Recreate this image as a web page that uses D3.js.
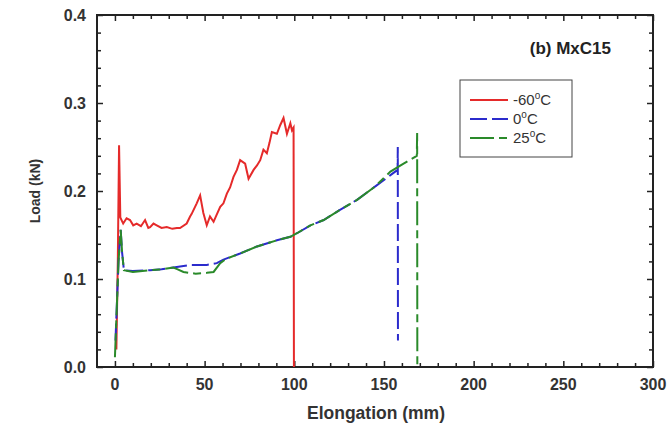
<!DOCTYPE html>
<html>
<head>
<meta charset="utf-8">
<script src="https://cdn.jsdelivr.net/npm/d3@7"></script>
<style>
	body { margin: 0; background: #fff; }
	svg { font-family: "Liberation Sans", Arial, sans-serif; }
	.tickLabel { font-weight: bold; font-size: 16px; fill: #333; }
	.axisTitle { font-weight: bold; fill: #333; }
</style>
</head>
<body>
<svg id="visSVG" width="670" height="428"></svg>
<script>

// data (elongation in mm, load in kN)
var redX = [0.8, 1.6, 2.3, 3.0, 4.6, 6.5, 8.4, 10.2, 12.1, 14.5, 16.8, 18.6, 19.6, 21.5, 23.3, 26, 28.9, 32, 34.5, 36.3, 40, 41.9, 42.8, 45.6, 47.5, 49.3, 51.2, 53, 55, 56.5, 58.7, 60.5, 62.4, 64.2, 66.1, 68, 69.8, 72.6, 74.5, 77.3, 79.2, 81, 82.8, 84.7, 86.2, 87.5, 90.3, 92.2, 94.0, 95.9, 97.8, 98.7, 99.6, 99.8];
var redY = [0.02, 0.12, 0.252, 0.17, 0.163, 0.169, 0.167, 0.161, 0.163, 0.16, 0.167, 0.158, 0.159, 0.163, 0.161, 0.158, 0.159, 0.157, 0.158, 0.158, 0.163, 0.171, 0.174, 0.186, 0.195, 0.175, 0.161, 0.171, 0.165, 0.172, 0.182, 0.186, 0.197, 0.204, 0.216, 0.224, 0.235, 0.231, 0.214, 0.224, 0.229, 0.235, 0.247, 0.243, 0.255, 0.267, 0.265, 0.275, 0.283, 0.265, 0.277, 0.269, 0.272, 0.0];

var blueX = [0.3, 2.0, 3.2, 4.0, 5.0, 10, 19.6, 26, 32.6, 41.9, 51.2, 56.8, 60.5, 69.8, 79.2, 90.3, 97.8, 101.5, 109, 116.4, 125, 135, 145, 153.6, 157.6, 157.7, 157.8];
var blueY = [0.03, 0.12, 0.156, 0.13, 0.110, 0.109, 0.110, 0.111, 0.113, 0.116, 0.116, 0.118, 0.122, 0.129, 0.137, 0.144, 0.148, 0.152, 0.161, 0.167, 0.178, 0.190, 0.205, 0.218, 0.224, 0.250, 0.03];

var greenX = [0.0, 2.0, 3.2, 4.0, 5.0, 10, 19.6, 26, 32.6, 35, 38.2, 45, 51.2, 55, 58.7, 62, 69.8, 79.2, 90.3, 97.8, 101.5, 109, 116.4, 125, 135, 145, 153.6, 160, 168.3, 168.5, 168.6];
var greenY = [0.011, 0.12, 0.156, 0.13, 0.110, 0.108, 0.110, 0.111, 0.113, 0.111, 0.108, 0.106, 0.107, 0.108, 0.118, 0.123, 0.129, 0.137, 0.144, 0.148, 0.152, 0.161, 0.167, 0.178, 0.190, 0.205, 0.222, 0.230, 0.240, 0.266, 0.0];

var seriesNames = ["-60", "0", "25"];
var seriesColors = ["#e52a2a", "#2b2bcc", "#2a8a2a"];
var seriesDash = [null, "17,5", "24,5,8,5"];

var xTicks = [0, 50, 100, 150, 200, 250, 300];
var yTicks = [0.0, 0.1, 0.2, 0.3, 0.4];

var PLOT_L = 97, PLOT_R = 653, PLOT_T = 15, PLOT_B = 367;

var vis = d3.select("#visSVG");

var x = d3.scaleLinear().domain([-10, 300]).range([PLOT_L, PLOT_R]);
var y = d3.scaleLinear().domain([0, 0.4]).range([PLOT_B, PLOT_T]);

// minor ticks every 10 mm / 0.02 kN
var xMinor = d3.range(0, 301, 10).filter(function(v) { return v % 50 != 0; });
var yMinor = d3.range(0.02, 0.4, 0.02).filter(function(v) { return Math.abs(v*10 - Math.round(v*10)) > 1e-6; });

function tickAxis(axisFn, scale, major, minor, tx, ty)
{
	var g = vis.append("g").attr("transform", "translate(" + tx + "," + ty + ")");
	g.append("g").call(axisFn(scale).tickValues(major).tickSize(-6).tickFormat(""));
	g.append("g").call(axisFn(scale).tickValues(minor).tickSize(-4).tickFormat(""));
	g.selectAll("path.domain").remove();
	g.selectAll("line").attr("stroke", "#222").attr("stroke-width", 1.5);
	return g;
}

tickAxis(d3.axisBottom, x, xTicks, xMinor, 0, PLOT_B);
tickAxis(d3.axisTop, x, xTicks, xMinor, 0, PLOT_T);
tickAxis(d3.axisLeft, y, yTicks, yMinor, PLOT_L, 0);
tickAxis(d3.axisRight, y, yTicks, yMinor, PLOT_R, 0);

// frame
vis.append("rect")
	.attr("x", PLOT_L).attr("y", PLOT_T)
	.attr("width", PLOT_R - PLOT_L).attr("height", PLOT_B - PLOT_T)
	.attr("fill", "none").attr("stroke", "#222").attr("stroke-width", 2);

// tick labels
vis.selectAll("text.xl").data(xTicks).enter().append("text")
	.attr("class", "tickLabel")
	.attr("x", function(d) { return x(d); })
	.attr("y", PLOT_B + 23)
	.attr("text-anchor", "middle")
	.text(function(d) { return d; });

vis.selectAll("text.yl").data(yTicks).enter().append("text")
	.attr("class", "tickLabel")
	.attr("x", PLOT_L - 11)
	.attr("y", function(d) { return y(d) + 6; })
	.attr("text-anchor", "end")
	.text(function(d) { return d.toFixed(1); });

// axis titles
vis.append("text").attr("class", "axisTitle")
	.attr("x", 376).attr("y", 419)
	.attr("text-anchor", "middle")
	.style("font-size", "17.5px")
	.text("Elongation (mm)");

vis.append("text").attr("class", "axisTitle")
	.attr("transform", "translate(40,191) rotate(-90)")
	.attr("text-anchor", "middle")
	.style("font-size", "14px")
	.text("Load (kN)");

vis.append("text").attr("class", "axisTitle")
	.attr("x", 611).attr("y", 54)
	.attr("text-anchor", "end")
	.style("font-size", "17px").style("fill", "#222")
	.text("(b) MxC15");

// curves
var line = d3.line()
	.x(function(d) { return x(d[0]); })
	.y(function(d) { return y(d[1]); });

var allSeries = [d3.zip(redX, redY), d3.zip(blueX, blueY), d3.zip(greenX, greenY)];

allSeries.forEach(function(s, i) {
	vis.append("path")
		.datum(s)
		.attr("d", line)
		.attr("fill", "none")
		.attr("stroke", seriesColors[i])
		.attr("stroke-width", 2)
		.attr("stroke-dasharray", seriesDash[i]);
});

// legend
var legend = vis.append("g").attr("transform", "translate(460,80)");
legend.append("rect")
	.attr("width", 112).attr("height", 77)
	.attr("fill", "#fff").attr("stroke", "#444").attr("stroke-width", 1);

seriesNames.forEach(function(name, i) {
	var ly = 20 + i * 19;
	legend.append("line")
		.attr("x1", 10).attr("x2", 48)
		.attr("y1", ly).attr("y2", ly)
		.attr("stroke", seriesColors[i])
		.attr("stroke-width", 2)
		.attr("stroke-dasharray", seriesDash[i]);
	var t = legend.append("text")
		.attr("x", 53).attr("y", ly + 5)
		.style("font-size", "15px").style("fill", "#333");
	t.append("tspan").text(name);
	t.append("tspan").attr("dy", -6).style("font-size", "10px").text("o");
	t.append("tspan").attr("dy", 6).text("C");
});

</script>
</body>
</html>
